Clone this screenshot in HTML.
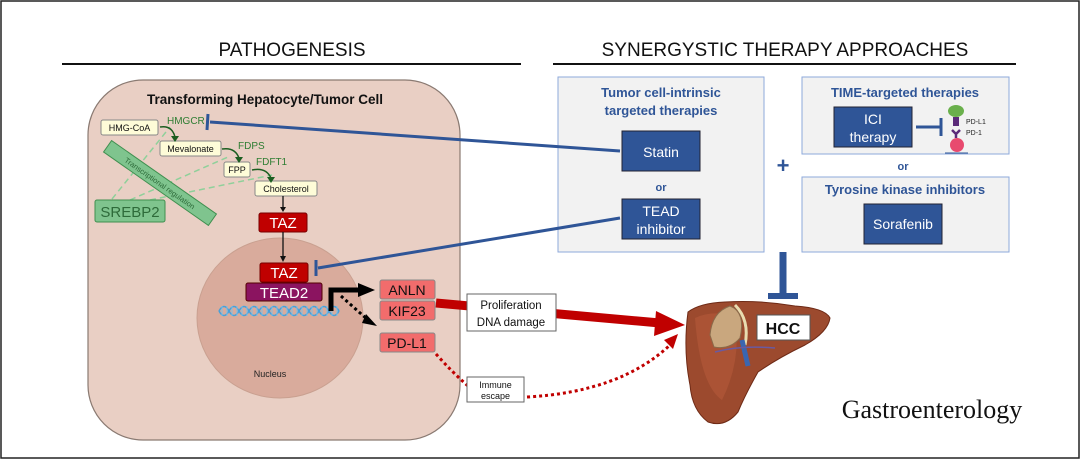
<!DOCTYPE html>
<html><head><style>
html,body{margin:0;padding:0;background:#fff}
svg{display:block}
.s{font-family:"Liberation Sans",sans-serif}
</style></head><body>
<svg width="1080" height="459" viewBox="0 0 1080 459" xmlns="http://www.w3.org/2000/svg" class="s" font-family="Liberation Sans, sans-serif">
<rect x="1" y="1" width="1078" height="457" fill="#fff" stroke="#222" stroke-width="1.5"/>
<text x="292" y="56" font-size="19" text-anchor="middle" fill="#111">PATHOGENESIS</text>
<line x1="62" y1="64" x2="521" y2="64" stroke="#111" stroke-width="2"/>
<text x="785" y="56" font-size="19" text-anchor="middle" fill="#111">SYNERGYSTIC THERAPY APPROACHES</text>
<line x1="553" y1="64" x2="1016" y2="64" stroke="#111" stroke-width="2"/>

<!-- cell -->
<rect x="88" y="80" width="372" height="360" rx="55" fill="#e9cfc4" stroke="#8a7a72" stroke-width="1.2"/>
<text x="265" y="104" font-size="13.5" font-weight="bold" text-anchor="middle" fill="#111">Transforming Hepatocyte/Tumor Cell</text>
<ellipse cx="280" cy="318" rx="83" ry="80" fill="#d9ab9c" stroke="#c9a090"/>
<text x="270" y="377" font-size="9" text-anchor="middle" fill="#222">Nucleus</text>

<g stroke="#8fd09a" stroke-width="1.5" stroke-dasharray="6,4" fill="none">
<line x1="112" y1="199" x2="170" y2="127"/>
<line x1="130" y1="200" x2="228" y2="157"/>
<line x1="150" y1="200" x2="272" y2="175"/>
</g>
<g transform="translate(160,183) rotate(35)">
<rect x="-64" y="-7" width="128" height="14" fill="#7fc48e" stroke="#3f8f4f"/>
<text x="0" y="3" font-size="7.5" text-anchor="middle" fill="#2e6b3a">Transcriptional regulation</text>
</g>
<rect x="95" y="200" width="70" height="22" rx="2" fill="#7fc48e" stroke="#3f8f4f"/>
<text x="130" y="217" font-size="15" text-anchor="middle" fill="#2e6b3a">SREBP2</text>

<g font-size="9" fill="#111">
<rect x="101" y="120" width="57" height="15" rx="2" fill="#fefcd8" stroke="#888"/>
<text x="129.5" y="131" text-anchor="middle">HMG-CoA</text>
<rect x="160" y="141" width="61" height="15" rx="2" fill="#fefcd8" stroke="#888"/>
<text x="190.5" y="152" text-anchor="middle">Mevalonate</text>
<rect x="224" y="162" width="26" height="15" rx="2" fill="#fefcd8" stroke="#888"/>
<text x="237" y="173" text-anchor="middle">FPP</text>
<rect x="255" y="181" width="62" height="15" rx="2" fill="#fefcd8" stroke="#888"/>
<text x="286" y="192" text-anchor="middle">Cholesterol</text>
</g>
<g font-size="10" fill="#2e7d32">
<text x="167" y="124">HMGCR</text>
<text x="238" y="149">FDPS</text>
<text x="256" y="165">FDFT1</text>
</g>
<g stroke="#1b5e20" stroke-width="1.5" fill="none">
<path d="M160 127 Q172 125 175 137"/>
<path d="M222 149 Q235 147 239 158"/>
<path d="M252 170 Q266 167 271 178"/>
</g>
<g fill="#1b5e20">
<path d="M171 136 L179 136 L175 142Z"/>
<path d="M235 157 L243 157 L239 163Z"/>
<path d="M267 177 L275 177 L271 183Z"/>
</g>

<line x1="283" y1="196" x2="283" y2="208" stroke="#111" stroke-width="1.3"/>
<path d="M280 207 L286 207 L283 212Z" fill="#111"/>
<rect x="259" y="213" width="48" height="19" rx="2" fill="#c00000" stroke="#700"/>
<text x="283" y="228" font-size="15" text-anchor="middle" fill="#fff">TAZ</text>
<line x1="283" y1="232" x2="283" y2="257" stroke="#111" stroke-width="1.3"/>
<path d="M280 256 L286 256 L283 262Z" fill="#111"/>
<rect x="260" y="263" width="48" height="19" rx="2" fill="#c00000" stroke="#700"/>
<text x="284" y="278" font-size="15" text-anchor="middle" fill="#fff">TAZ</text>
<rect x="246" y="283" width="76" height="18" rx="2" fill="#8b1460" stroke="#500"/>
<text x="284" y="298" font-size="15" text-anchor="middle" fill="#fff">TEAD2</text>
<g stroke="#4aa0d8" stroke-width="1.6" fill="none">
<path d="M219 311 q5 -9 10 0 t10 0 t10 0 t10 0 t10 0 t10 0 t10 0 t10 0 t10 0 t10 0 t10 0 t10 0"/>
<path d="M219 311 q5 9 10 0 t10 0 t10 0 t10 0 t10 0 t10 0 t10 0 t10 0 t10 0 t10 0 t10 0 t10 0"/>
</g>
<g stroke="#7cc0e8" stroke-width="1">
<path d="M222 306v10M227 306v10M232 306v10M237 306v10M242 306v10M247 306v10M252 306v10M257 306v10M262 306v10M267 306v10M272 306v10M277 306v10M282 306v10M287 306v10M292 306v10M297 306v10M302 306v10M307 306v10M312 306v10M317 306v10M322 306v10M327 306v10M332 306v10M337 306v10"/>
</g>
<path d="M331 311 L331 290 L360 290" stroke="#000" stroke-width="5" fill="none"/>
<path d="M358 283 L375 290 L358 297Z" fill="#000"/>
<line x1="341" y1="296" x2="368" y2="320" stroke="#000" stroke-width="3" stroke-dasharray="3,3"/>
<path d="M366 314 L377 326 L362 323Z" fill="#000"/>

<g font-size="14" fill="#111">
<rect x="380" y="280" width="55" height="19" rx="2" fill="#f26c6c" stroke="#888"/>
<text x="407" y="295" text-anchor="middle">ANLN</text>
<rect x="380" y="301" width="55" height="19" rx="2" fill="#f26c6c" stroke="#888"/>
<text x="407" y="316" text-anchor="middle">KIF23</text>
<rect x="380" y="333" width="55" height="19" rx="2" fill="#f26c6c" stroke="#888"/>
<text x="407" y="348" text-anchor="middle">PD-L1</text>
</g>

<!-- liver -->
<path d="M688 312 Q700 303 725 302 Q760 300 795 306 Q825 308 830 318 Q828 332 805 345 Q778 358 758 372 Q745 395 738 412 Q725 428 708 422 Q692 410 690 385 Q683 350 688 312Z" fill="#9c4a2e" stroke="#6e2a16"/>
<path d="M695 318 Q712 310 735 316 Q742 360 722 400 Q700 385 695 318Z" fill="#b65a3a" opacity="0.6"/>
<path d="M710 335 Q712 312 730 306 Q746 312 740 338 Q730 350 714 347Z" fill="#c9a77e" stroke="#8a6a4a"/>
<path d="M735 305 Q750 320 745 345" stroke="#e8dcb0" stroke-width="3" fill="none"/>
<path d="M742 340 L748 366" stroke="#3a66b0" stroke-width="5"/>
<path d="M715 352 Q740 345 775 348" stroke="#6a5aa0" stroke-width="1.5" fill="none"/>

<!-- red arrow -->
<line x1="436" y1="303" x2="660" y2="323" stroke="#c00000" stroke-width="9"/>
<path d="M656 311 L685 325 L654 336Z" fill="#c00000"/>
<rect x="467" y="294" width="89" height="37" fill="#fff" stroke="#666"/>
<text x="511" y="309" font-size="11.5" text-anchor="middle" fill="#111">Proliferation</text>
<text x="511" y="326" font-size="11.5" text-anchor="middle" fill="#111">DNA damage</text>
<path d="M436 354 Q452 372 468 386" stroke="#c00000" stroke-width="3" stroke-dasharray="3,3" fill="none"/>
<path d="M527 397 Q620 392 670 345" stroke="#c00000" stroke-width="3" stroke-dasharray="3,3" fill="none"/>
<path d="M664 340 L678 334 L673 349Z" fill="#c00000"/>
<rect x="467" y="377" width="57" height="25" fill="#fff" stroke="#666"/>
<text x="495.5" y="388" font-size="9" text-anchor="middle" fill="#111">Immune</text>
<text x="495.5" y="399" font-size="9" text-anchor="middle" fill="#111">escape</text>

<!-- right panels -->
<rect x="558" y="77" width="206" height="175" fill="#f2f2f2" stroke="#8ea9db"/>
<text x="661" y="97" font-size="13" font-weight="bold" text-anchor="middle" fill="#2f5597">Tumor cell-intrinsic</text>
<text x="661" y="115" font-size="13" font-weight="bold" text-anchor="middle" fill="#2f5597">targeted therapies</text>

<!-- blue inhibition lines -->
<g stroke="#2f5597" stroke-width="3" fill="none">
<line x1="210" y1="122" x2="620" y2="151"/>
<line x1="208" y1="114" x2="207" y2="130"/>
<line x1="318" y1="268" x2="620" y2="218"/>
<line x1="316" y1="260" x2="316" y2="276"/>
</g>

<rect x="622" y="131" width="78" height="40" fill="#2f5597" stroke="#223"/>
<text x="661" y="157" font-size="14" text-anchor="middle" fill="#fff">Statin</text>
<text x="661" y="191" font-size="11" font-weight="bold" text-anchor="middle" fill="#2f5597">or</text>
<rect x="622" y="199" width="78" height="40" fill="#2f5597" stroke="#223"/>
<text x="661" y="216" font-size="14" text-anchor="middle" fill="#fff">TEAD</text>
<text x="661" y="234" font-size="14" text-anchor="middle" fill="#fff">inhibitor</text>

<text x="783" y="173" font-size="22" font-weight="bold" text-anchor="middle" fill="#2f5597">+</text>

<rect x="802" y="77" width="207" height="77" fill="#f2f2f2" stroke="#8ea9db"/>
<text x="905" y="97" font-size="13" font-weight="bold" text-anchor="middle" fill="#2f5597">TIME-targeted therapies</text>
<rect x="834" y="107" width="78" height="40" fill="#2f5597" stroke="#223"/>
<text x="873" y="124" font-size="14" text-anchor="middle" fill="#fff">ICI</text>
<text x="873" y="142" font-size="14" text-anchor="middle" fill="#fff">therapy</text>
<line x1="916" y1="127" x2="940" y2="127" stroke="#2f5597" stroke-width="3"/>
<line x1="941" y1="118" x2="941" y2="136" stroke="#2f5597" stroke-width="3"/>
<ellipse cx="956" cy="111" rx="8" ry="6" fill="#6ab04c"/>
<rect x="953" y="117" width="6" height="9" fill="#5b2a7a"/>
<path d="M952 130 L956 134 L960 130 M956 134 V138" stroke="#5b2a7a" stroke-width="2.5" fill="none"/>
<circle cx="957" cy="145" r="7" fill="#e84a6f"/>
<line x1="945" y1="153" x2="968" y2="153" stroke="#2f5597" stroke-width="1"/>
<text x="966" y="124" font-size="7" fill="#222">PD-L1</text>
<text x="966" y="135" font-size="7" fill="#222">PD-1</text>

<text x="903" y="170" font-size="11" font-weight="bold" text-anchor="middle" fill="#2f5597">or</text>
<rect x="802" y="177" width="207" height="75" fill="#f2f2f2" stroke="#8ea9db"/>
<text x="905" y="194" font-size="13" font-weight="bold" text-anchor="middle" fill="#2f5597">Tyrosine kinase inhibitors</text>
<rect x="864" y="204" width="78" height="40" fill="#2f5597" stroke="#223"/>
<text x="903" y="229" font-size="14" text-anchor="middle" fill="#fff">Sorafenib</text>

<line x1="783" y1="252" x2="783" y2="295" stroke="#2f5597" stroke-width="7"/>
<line x1="768" y1="296" x2="798" y2="296" stroke="#2f5597" stroke-width="6"/>

<rect x="757" y="315" width="53" height="25" fill="#fff" stroke="#555"/>
<text x="783" y="334" font-size="16" font-weight="bold" text-anchor="middle" fill="#111">HCC</text>

<text x="932" y="418" font-size="26" style="font-family:'Liberation Serif',serif" text-anchor="middle" fill="#111">Gastroenterology</text>
</svg>
</body></html>
